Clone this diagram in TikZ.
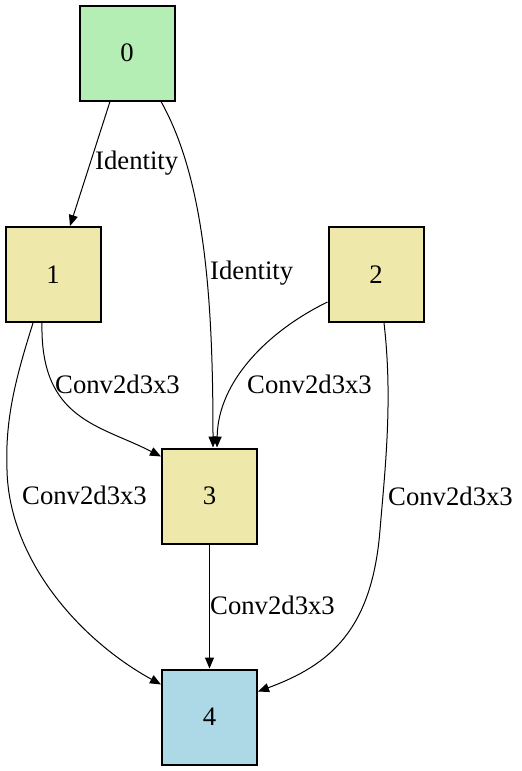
\documentclass[tikz,border=0pt]{standalone}
\usepackage{fontspec}
\setmainfont{Liberation Serif}
\usetikzlibrary{arrows.meta}
\definecolor{cgreen}{HTML}{B4EEB4}
\definecolor{cgold}{HTML}{EEE8AA}
\definecolor{cblue}{HTML}{ADD8E6}
\begin{document}
\begin{tikzpicture}[x=1pt,y=-1pt,
  box/.style={draw=black,line width=2pt,minimum width=95pt,minimum height=95pt,inner sep=0pt,font=\rmfamily\fontsize{26.7}{30}\selectfont},
  lbl/.style={anchor=west,inner sep=0pt,font=\rmfamily\fontsize{26.7}{30}\selectfont},
  edge/.style={draw=black,line width=1pt,-{Triangle[length=11pt,width=9pt]}}]
\useasboundingbox[fill=white] (0,0) rectangle (522,771);
\node[box,fill=cgreen] (n0) at (127,53) {0};
\node[box,fill=cgold] (n1) at (53,274.5) {1};
\node[box,fill=cgold] (n2) at (376,274.5) {2};
\node[box,fill=cgold] (n3) at (209.5,496) {3};
\node[box,fill=cblue] (n4) at (209.5,717) {4};
% edges
\draw[edge] ([xshift=-17pt]n0.south) -- ([xshift=17pt]n1.north);
\draw[edge] ([xshift=34pt]n0.south) .. controls (205,180) and (213,300) .. ([xshift=3.5pt]n3.north);
\draw[edge] ([xshift=-11pt]n1.south) .. controls (40,420) and (100,425) .. ([yshift=-9pt]n3.north west);
\draw[edge] ([yshift=21pt]n2.south west) .. controls (270,330) and (218,380) .. ([xshift=7.5pt]n3.north);
\draw[edge] ([xshift=-20pt]n1.south) .. controls (15,380) and (5,420) .. (7,470) .. controls (9,560) and (80,640) .. ([yshift=-16pt]n4.north west);
\draw[edge] ([xshift=8pt]n2.south) .. controls (393,400) and (385,470) .. (380,530) .. controls (372,630) and (330,665) .. ([yshift=-23pt]n4.north east);
\draw[edge] (n3.south) -- (n4.north);
% labels
\node[lbl] (l01) at (95,163) {Identity};
\node[lbl] (l03) at (210,273) {Identity};
\node[lbl] (l13) at (55,384) {Conv2d3x3};
\node[lbl] (l23) at (247,384) {Conv2d3x3};
\node[lbl] (l14) at (22,495) {Conv2d3x3};
\node[lbl] (l24) at (388,496) {Conv2d3x3};
\node[lbl] (l34) at (210,605) {Conv2d3x3};
\end{tikzpicture}
\end{document}
